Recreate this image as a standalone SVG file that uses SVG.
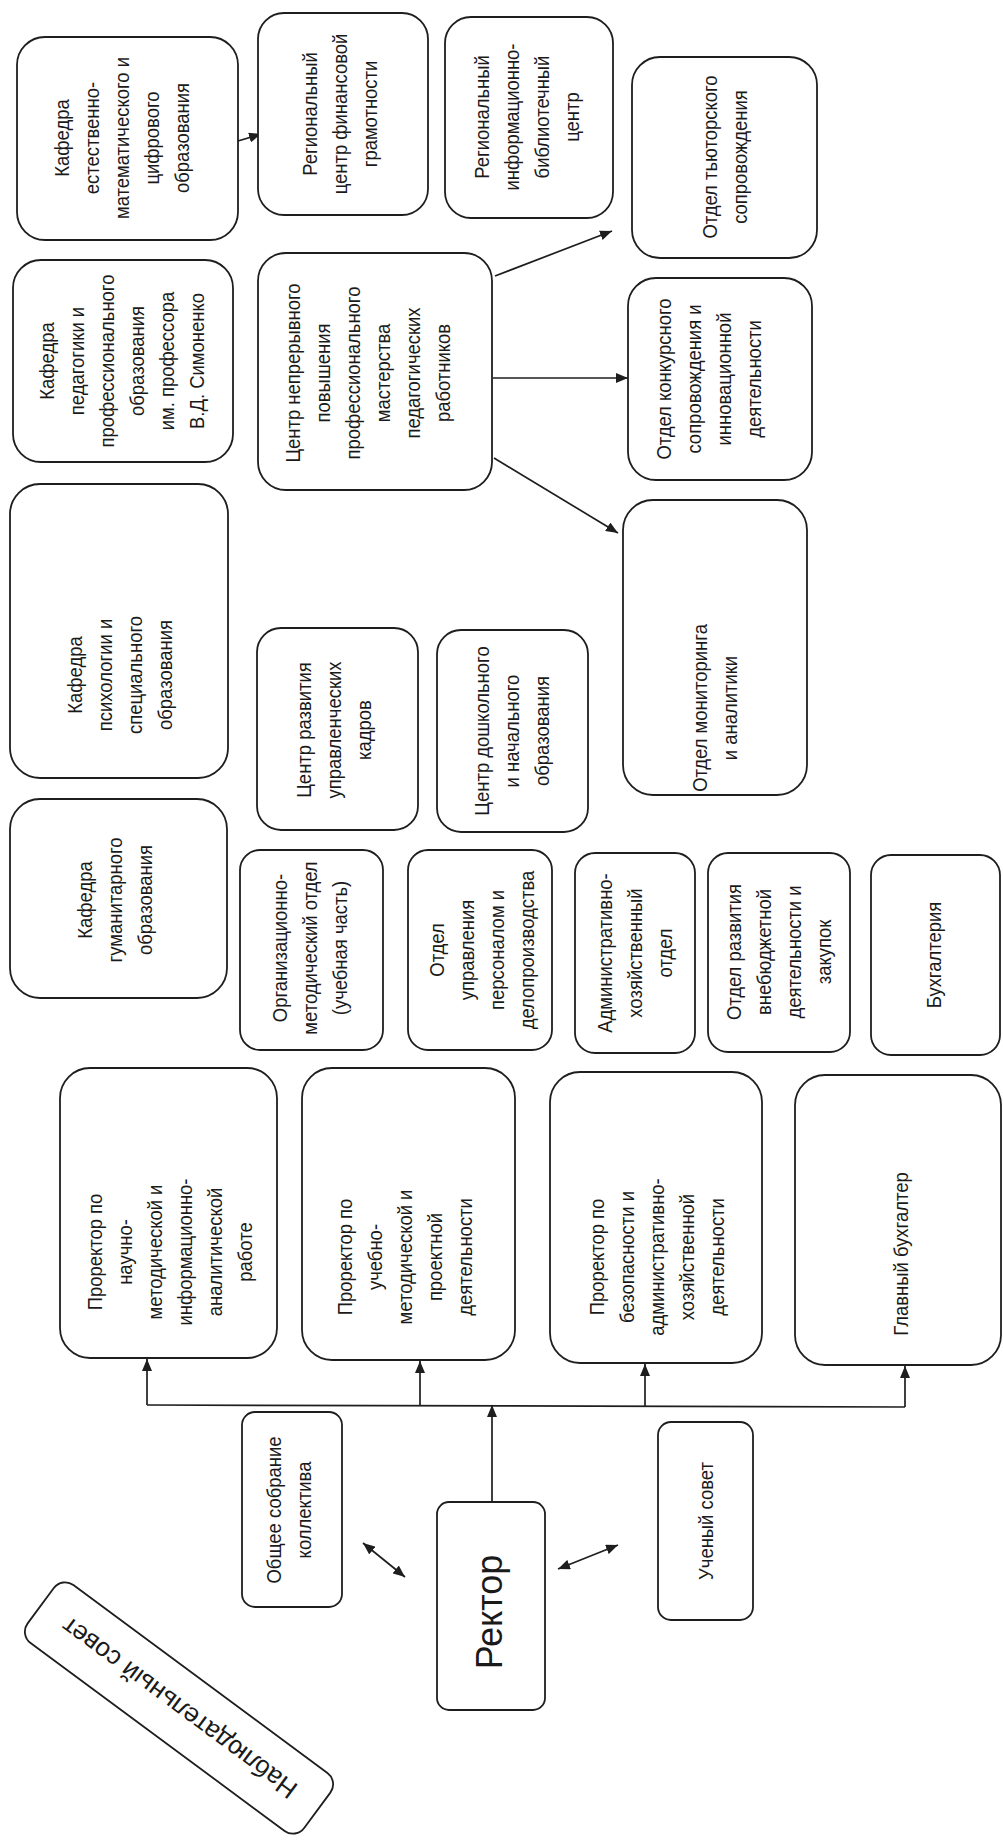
<svg xmlns="http://www.w3.org/2000/svg" width="1003" height="1844" viewBox="0 0 1003 1844">
<defs>
<style>
.box{fill:#fff;stroke:#1e1e1e;stroke-width:1.8}
.t{font-family:"Liberation Sans",Arial,sans-serif;font-size:20.5px;fill:#1a1a1a;text-anchor:middle}
.tr{font-family:"Liberation Sans",Arial,sans-serif;font-size:36px;fill:#1a1a1a;text-anchor:middle}
.tn{font-family:"Liberation Sans",Arial,sans-serif;font-size:26px;fill:#1a1a1a;text-anchor:middle}
.c{fill:none;stroke:#1e1e1e;stroke-width:1.7}
</style>
<marker id="ah" viewBox="0 0 12 10" refX="12" refY="5" markerWidth="12" markerHeight="10" markerUnits="userSpaceOnUse" orient="auto-start-reverse">
<path d="M0,0 L12,5 L0,10 z" fill="#1e1e1e"/>
</marker>
</defs>
<rect x="0" y="0" width="1003" height="1844" fill="#fff"/>

<g id="connectors">
<line class="c" x1="238" y1="141" x2="261" y2="134" marker-end="url(#ah)"/>
<line class="c" x1="495" y1="276" x2="612" y2="231" marker-end="url(#ah)"/>
<line class="c" x1="493" y1="378" x2="628" y2="378" marker-end="url(#ah)"/>
<line class="c" x1="494" y1="458" x2="618" y2="533" marker-end="url(#ah)"/>
<polyline class="c" points="147,1405 905,1407"/>
<line class="c" x1="147" y1="1405" x2="147" y2="1359" marker-end="url(#ah)"/>
<line class="c" x1="420" y1="1405" x2="420" y2="1361" marker-end="url(#ah)"/>
<line class="c" x1="645" y1="1406" x2="645" y2="1364" marker-end="url(#ah)"/>
<line class="c" x1="905" y1="1407" x2="905" y2="1366" marker-end="url(#ah)"/>
<line class="c" x1="492" y1="1502" x2="492" y2="1405" marker-end="url(#ah)"/>
<line class="c" x1="363" y1="1543" x2="405" y2="1577" marker-start="url(#ah)" marker-end="url(#ah)"/>
<line class="c" x1="558" y1="1569" x2="618" y2="1545" marker-start="url(#ah)" marker-end="url(#ah)"/>
</g>

<g id="n_kaf_estmat">
<rect class="box" x="17" y="37" width="221" height="203" rx="28"/>
<text class="t" transform="translate(122 138) rotate(-90) scale(0.9 1)"><tspan x="0" y="-53">Кафедра</tspan><tspan x="0" y="-23">естественно-</tspan><tspan x="0" y="7">математического и</tspan><tspan x="0" y="37">цифрового</tspan><tspan x="0" y="67">образования</tspan></text>
</g>

<g id="n_rc_fin">
<rect class="box" x="258" y="13" width="170" height="202" rx="26"/>
<text class="t" transform="translate(340 114) rotate(-90) scale(0.9 1)"><tspan x="0" y="-23">Региональный</tspan><tspan x="0" y="7">центр финансовой</tspan><tspan x="0" y="37">грамотности</tspan></text>
</g>

<g id="n_ric">
<rect class="box" x="445" y="17" width="168" height="201" rx="26"/>
<text class="t" transform="translate(527 117) rotate(-90) scale(0.9 1)"><tspan x="0" y="-38">Региональный</tspan><tspan x="0" y="-8">информационно-</tspan><tspan x="0" y="22">библиотечный</tspan><tspan x="0" y="52">центр</tspan></text>
</g>

<g id="n_tutor">
<rect class="box" x="632" y="57" width="185" height="201" rx="28"/>
<text class="t" transform="translate(725 157) rotate(-90) scale(0.9 1)"><tspan x="0" y="-8">Отдел тьюторского</tspan><tspan x="0" y="22">сопровождения</tspan></text>
</g>

<g id="n_kaf_ped">
<rect class="box" x="13" y="260" width="220" height="202" rx="28"/>
<text class="t" transform="translate(122 361) rotate(-90) scale(0.9 1)"><tspan x="0" y="-68">Кафедра</tspan><tspan x="0" y="-38">педагогики и</tspan><tspan x="0" y="-8">профессионального</tspan><tspan x="0" y="22">образования</tspan><tspan x="0" y="52">им. профессора</tspan><tspan x="0" y="82">В.Д. Симоненко</tspan></text>
</g>

<g id="n_center_nepr">
<rect class="box" x="258" y="253" width="234" height="237" rx="28"/>
<text class="t" transform="translate(368 373) rotate(-90) scale(0.9 1)"><tspan x="0" y="-68">Центр непрерывного</tspan><tspan x="0" y="-38">повышения</tspan><tspan x="0" y="-8">профессионального</tspan><tspan x="0" y="22">мастерства</tspan><tspan x="0" y="52">педагогических</tspan><tspan x="0" y="82">работников</tspan></text>
</g>

<g id="n_konkurs">
<rect class="box" x="628" y="278" width="184" height="202" rx="28"/>
<text class="t" transform="translate(709 379) rotate(-90) scale(0.9 1)"><tspan x="0" y="-38">Отдел конкурсного</tspan><tspan x="0" y="-8">сопровождения и</tspan><tspan x="0" y="22">инновационной</tspan><tspan x="0" y="52">деятельности</tspan></text>
</g>

<g id="n_kaf_psy">
<rect class="box" x="10" y="484" width="218" height="294" rx="30"/>
<text class="t" transform="translate(120 675) rotate(-90) scale(0.9 1)"><tspan x="0" y="-38">Кафедра</tspan><tspan x="0" y="-8">психологии и</tspan><tspan x="0" y="22">специального</tspan><tspan x="0" y="52">образования</tspan></text>
</g>

<g id="n_cr_upr">
<rect class="box" x="257" y="628" width="161" height="202" rx="24"/>
<text class="t" transform="translate(334 730) rotate(-90) scale(0.9 1)"><tspan x="0" y="-23">Центр развития</tspan><tspan x="0" y="7">управленческих</tspan><tspan x="0" y="37">кадров</tspan></text>
</g>

<g id="n_cr_dosh">
<rect class="box" x="437" y="630" width="151" height="202" rx="24"/>
<text class="t" transform="translate(512 731) rotate(-90) scale(0.9 1)"><tspan x="0" y="-23">Центр дошкольного</tspan><tspan x="0" y="7">и начального</tspan><tspan x="0" y="37">образования</tspan></text>
</g>

<g id="n_monitor">
<rect class="box" x="623" y="500" width="184" height="295" rx="30"/>
<text class="t" transform="translate(715 708) rotate(-90) scale(0.9 1)"><tspan x="0" y="-8">Отдел мониторинга</tspan><tspan x="0" y="22">и аналитики</tspan></text>
</g>

<g id="n_kaf_gum">
<rect class="box" x="10" y="799" width="217" height="199" rx="30"/>
<text class="t" transform="translate(115 900) rotate(-90) scale(0.9 1)"><tspan x="0" y="-23">Кафедра</tspan><tspan x="0" y="7">гуманитарного</tspan><tspan x="0" y="37">образования</tspan></text>
</g>

<g id="n_omo">
<rect class="box" x="240" y="850" width="143" height="200" rx="20"/>
<text class="t" transform="translate(310 948) rotate(-90) scale(0.9 1)"><tspan x="0" y="-23">Организационно-</tspan><tspan x="0" y="7">методический отдел</tspan><tspan x="0" y="37">(учебная часть)</tspan></text>
</g>

<g id="n_oup">
<rect class="box" x="408" y="850" width="144" height="200" rx="20"/>
<text class="t" transform="translate(482 950) rotate(-90) scale(0.9 1)"><tspan x="0" y="-38">Отдел</tspan><tspan x="0" y="-8">управления</tspan><tspan x="0" y="22">персоналом и</tspan><tspan x="0" y="52">делопроизводства</tspan></text>
</g>

<g id="n_aho">
<rect class="box" x="575" y="853" width="120" height="200" rx="20"/>
<text class="t" transform="translate(635 953) rotate(-90) scale(0.9 1)"><tspan x="0" y="-23">Административно-</tspan><tspan x="0" y="7">хозяйственный</tspan><tspan x="0" y="37">отдел</tspan></text>
</g>

<g id="n_ovdz">
<rect class="box" x="708" y="853" width="142" height="199" rx="20"/>
<text class="t" transform="translate(779 952) rotate(-90) scale(0.9 1)"><tspan x="0" y="-38">Отдел развития</tspan><tspan x="0" y="-8">внебюджетной</tspan><tspan x="0" y="22">деятельности и</tspan><tspan x="0" y="52">закупок</tspan></text>
</g>

<g id="n_buh">
<rect class="box" x="871" y="855" width="129" height="200" rx="20"/>
<text class="t" transform="translate(934 955) rotate(-90) scale(0.9 1)"><tspan x="0" y="7">Бухгалтерия</tspan></text>
</g>

<g id="n_pr_nauch">
<rect class="box" x="60" y="1068" width="217" height="290" rx="30"/>
<text class="t" transform="translate(170 1252) rotate(-90) scale(0.9 1)"><tspan x="0" y="-68">Проректор по</tspan><tspan x="0" y="-38">научно-</tspan><tspan x="0" y="-8">методической и</tspan><tspan x="0" y="22">информационно-</tspan><tspan x="0" y="52">аналитической</tspan><tspan x="0" y="82">работе</tspan></text>
</g>

<g id="n_pr_ucheb">
<rect class="box" x="302" y="1068" width="213" height="292" rx="30"/>
<text class="t" transform="translate(405 1257) rotate(-90) scale(0.9 1)"><tspan x="0" y="-53">Проректор по</tspan><tspan x="0" y="-23">учебно-</tspan><tspan x="0" y="7">методической и</tspan><tspan x="0" y="37">проектной</tspan><tspan x="0" y="67">деятельности</tspan></text>
</g>

<g id="n_pr_bez">
<rect class="box" x="550" y="1072" width="212" height="291" rx="30"/>
<text class="t" transform="translate(657 1257) rotate(-90) scale(0.9 1)"><tspan x="0" y="-53">Проректор по</tspan><tspan x="0" y="-23">безопасности и</tspan><tspan x="0" y="7">административно-</tspan><tspan x="0" y="37">хозяйственной</tspan><tspan x="0" y="67">деятельности</tspan></text>
</g>

<g id="n_glbuh">
<rect class="box" x="795" y="1075" width="206" height="290" rx="30"/>
<text class="t" transform="translate(901 1254) rotate(-90) scale(0.9 1)"><tspan x="0" y="7">Главный бухгалтер</tspan></text>
</g>

<g id="n_obsch">
<rect class="box" x="242" y="1412" width="100" height="195" rx="13"/>
<text class="t" transform="translate(289 1510) rotate(-90) scale(0.9 1)"><tspan x="0" y="-8">Общее собрание</tspan><tspan x="0" y="22">коллектива</tspan></text>
</g>

<g id="n_rector">
<rect class="box" x="437" y="1502" width="108" height="208" rx="12"/>
<text class="tr" transform="translate(489 1612) rotate(-90)"><tspan x="0" y="13">Ректор</tspan></text>
</g>

<g id="n_uch">
<rect class="box" x="658" y="1422" width="95" height="198" rx="13"/>
<text class="t" transform="translate(706 1521) rotate(-90) scale(0.9 1)"><tspan x="0" y="7">Ученый совет</tspan></text>
</g>

<g id="n_nabl" transform="translate(179 1708) rotate(36.5)">
<rect class="box" x="-172" y="-36" width="344" height="72" rx="14"/>
<text class="tn" transform="rotate(180)"><tspan x="0" y="9">Наблюдательный совет</tspan></text>
</g>
</svg>
